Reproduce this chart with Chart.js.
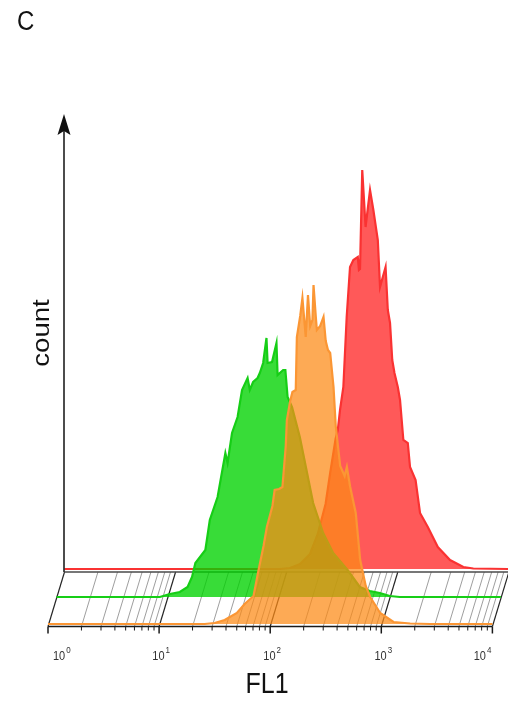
<!DOCTYPE html>
<html>
<head>
<meta charset="utf-8">
<script src="https://cdn.jsdelivr.net/npm/chart.js@4/dist/chart.umd.min.js"></script>
<style>
html,body{margin:0;padding:0;background:#fff;}
#wrap{width:508px;height:704px;position:relative;}
canvas{display:block;}
</style>
</head>
<body>
<div id="wrap"><canvas id="c" width="508" height="704"></canvas></div>
<script>
// ---------- text ----------
const panelLabel = 'C';
const xTitle = 'FL1';
const yTitle = 'count';
const decadeExponents = [0, 1, 2, 3, 4];      // tick labels 10^0 ... 10^4
const minorMultipliers = [2, 3, 4, 5, 6, 7, 8, 9];

// ---------- data (x = log10 FL1, y = count) ----------
const redLogFL1 = [0, 1.94, 2.03, 2.12, 2.21, 2.28, 2.35, 2.39, 2.44, 2.46, 2.48, 2.51, 2.54, 2.57, 2.60, 2.64, 2.65, 2.66, 2.68, 2.71, 2.75, 2.78, 2.82, 2.84, 2.89, 2.91, 2.93, 2.95, 2.97, 3.00, 3.02, 3.05, 3.09, 3.11, 3.16, 3.20, 3.27, 3.36, 3.47, 3.59, 3.68, 4];
const redCount  = [0, 0, 1, 5, 15, 35, 65, 95, 130, 139, 159, 182, 252, 302, 309, 312, 299, 300, 399, 342, 379, 359, 329, 282, 302, 259, 246, 209, 196, 182, 169, 129, 126, 102, 89, 56, 42, 22, 9, 2, 0.5, 0];

const greenLogFL1 = [0, 0.93, 1.02, 1.11, 1.18, 1.22, 1.25, 1.34, 1.38, 1.45, 1.52, 1.54, 1.58, 1.63, 1.67, 1.72, 1.74, 1.77, 1.81, 1.83, 1.86, 1.89, 1.90, 1.94, 1.98, 1.99, 2.04, 2.06, 2.08, 2.12, 2.19, 2.31, 2.40, 2.49, 2.62, 2.73, 2.82, 2.91, 3.00, 3.09, 4];
const greenCount  = [0, 0, 3, 5, 10, 20, 34, 47, 77, 100, 144, 134, 164, 180, 207, 219, 207, 215, 219, 224, 234, 259, 234, 235, 254, 222, 227, 227, 200, 190, 160, 94, 64, 44, 27, 10, 6, 4, 1, 0, 0];

const orangeLogFL1 = [0, 1.41, 1.50, 1.59, 1.70, 1.77, 1.85, 1.89, 1.94, 1.97, 2.02, 2.04, 2.08, 2.11, 2.14, 2.15, 2.18, 2.20, 2.23, 2.24, 2.27, 2.29, 2.32, 2.34, 2.36, 2.38, 2.39, 2.41, 2.42, 2.45, 2.48, 2.50, 2.52, 2.54, 2.57, 2.59, 2.63, 2.67, 2.69, 2.72, 2.77, 2.81, 2.86, 2.90, 2.99, 3.11, 3.26, 3.44, 4];
const orangeCount  = [0, 0, 1, 4, 11, 20, 28, 51, 78, 97, 118, 134, 135, 137, 178, 204, 223, 232, 234, 287, 308, 326, 287, 329, 298, 304, 339, 308, 294, 298, 307, 283, 274, 271, 237, 198, 158, 148, 157, 137, 111, 64, 38, 27, 11, 2, 0.5, 0, 0];

// ---------- geometry / style ----------
const FONT = "'Liberation Sans', Arial, Helvetica, sans-serif";
const TEXT_STRETCH = 1.15;
const decadePx = 111.1;
const plotWidthPx = 460;
const plotHeightPx = 524;
const layerShiftPx = { orange: 0, green: 8.5, red: 16.5 };
const layerRisePx  = { orange: 0, green: 27,  red: 55 };

function pairs(xs, ys) { return xs.map((x, i) => ({ x: x, y: ys[i] })); }
function xRange(shift) { const m = -shift / decadePx; return { min: m, max: m + plotWidthPx / decadePx }; }
function yRange(rise) { return { min: -rise, max: plotHeightPx - rise }; }

function line(ctx, x1, y1, x2, y2, color, w) {
  ctx.beginPath(); ctx.moveTo(x1, y1); ctx.lineTo(x2, y2);
  ctx.strokeStyle = color; ctx.lineWidth = w; ctx.stroke();
}

const floorPlugin = {
  id: 'floor',
  beforeDatasetsDraw(chart) {
    const ctx = chart.ctx;
    const s = chart.scales;
    const yF = s.yO.getPixelForValue(0) + 2.5;
    const yB = s.yR.getPixelForValue(0) + 3;
    ctx.save();
    for (let e = 0; e < 4; e++) {
      for (const m of minorMultipliers) {
        const v = e + Math.log10(m);
        line(ctx, s.xO.getPixelForValue(v), yF, s.xR.getPixelForValue(v), yB, '#858585', 0.8);
      }
    }
    for (const e of decadeExponents) {
      line(ctx, s.xO.getPixelForValue(e), yF, s.xR.getPixelForValue(e), yB, '#262626', 1.2);
    }
    line(ctx, s.xR.getPixelForValue(0), yB, s.xR.getPixelForValue(4) + 1, yB, '#4a4a4a', 1.4);
    ctx.restore();
  },
  afterDatasetsDraw(chart) {
    const ctx = chart.ctx;
    const s = chart.scales;
    const yF = s.yO.getPixelForValue(0) + 2.5;
    const yB = s.yR.getPixelForValue(0) + 3;
    ctx.save();
    // front axis
    const x0 = s.xO.getPixelForValue(0), x4 = s.xO.getPixelForValue(4);
    line(ctx, x0, yF, x4, yF, '#1a1a1a', 1.5);
    for (let e = 0; e < 4; e++) {
      for (const m of minorMultipliers) {
        const px = s.xO.getPixelForValue(e + Math.log10(m));
        line(ctx, px, yF, px, yF + 4, '#1a1a1a', 1);
      }
    }
    for (const e of decadeExponents) {
      const px = s.xO.getPixelForValue(e);
      line(ctx, px, yF, px, yF + 7, '#1a1a1a', 1.5);
    }
    // tick labels 10^n
    ctx.fillStyle = '#333';
    for (const e of decadeExponents) {
      const px = s.xO.getPixelForValue(e);
      ctx.font = '11px ' + FONT;
      const wb = ctx.measureText('10').width;
      ctx.font = '8px ' + FONT;
      const we = ctx.measureText(String(e)).width;
      const w = wb + 1 + we;
      let left = px - w / 2 + 2;
      left = Math.max(left, x0 + 5);
      left = Math.min(left, x4 - 1 - w);
      ctx.save();
      ctx.translate(left, 660); ctx.scale(1, TEXT_STRETCH);
      ctx.textAlign = 'left'; ctx.textBaseline = 'alphabetic';
      ctx.font = '11px ' + FONT;
      ctx.fillText('10', 0, 0);
      ctx.font = '8px ' + FONT;
      ctx.fillText(String(e), wb + 1, -6.5);
      ctx.restore();
    }
    // vertical count axis with arrow
    const ax = s.xR.getPixelForValue(0) - 0.5;
    const top = chart.chartArea.top + 14;
    line(ctx, ax, yB, ax, top + 16, '#111', 1.5);
    ctx.beginPath();
    ctx.moveTo(ax, top);
    ctx.lineTo(ax - 6.5, top + 21);
    ctx.lineTo(ax, top + 17);
    ctx.lineTo(ax + 6.5, top + 21);
    ctx.closePath();
    ctx.fillStyle = '#111';
    ctx.fill();
    // titles
    ctx.fillStyle = '#111';
    ctx.save();
    ctx.translate(267, 693); ctx.scale(1, TEXT_STRETCH);
    ctx.font = '25px ' + FONT;
    ctx.textAlign = 'center'; ctx.textBaseline = 'alphabetic';
    ctx.fillText(xTitle, 0, 0);
    ctx.restore();
    ctx.save();
    ctx.translate(42, 333); ctx.scale(1, TEXT_STRETCH); ctx.rotate(-Math.PI / 2);
    ctx.font = '24px ' + FONT;
    ctx.textAlign = 'center'; ctx.textBaseline = 'middle';
    ctx.fillText(yTitle, 0, 0);
    ctx.restore();
    ctx.save();
    ctx.translate(17, 30); ctx.scale(1, TEXT_STRETCH);
    ctx.font = '24px ' + FONT;
    ctx.textAlign = 'left'; ctx.textBaseline = 'alphabetic';
    ctx.fillText(panelLabel, 0, 0);
    ctx.restore();
    ctx.restore();
  }
};

const hidden = (r) => ({ type: 'linear', display: false, min: r.min, max: r.max });

new Chart(document.getElementById('c'), {
  type: 'line',
  data: {
    datasets: [
      { label: 'orange', data: pairs(orangeLogFL1, orangeCount), xAxisID: 'xO', yAxisID: 'yO', order: 1,
        borderColor: 'rgb(251,150,52)', backgroundColor: 'rgba(252,138,22,0.73)', fill: 'origin',
        borderWidth: 2.2, pointRadius: 0, tension: 0, clip: false },
      { label: 'green', data: pairs(greenLogFL1, greenCount), xAxisID: 'xG', yAxisID: 'yG', order: 2,
        borderColor: 'rgb(22,206,22)', backgroundColor: 'rgba(0,210,0,0.78)', fill: 'origin',
        borderWidth: 2.2, pointRadius: 0, tension: 0, clip: false },
      { label: 'red', data: pairs(redLogFL1, redCount), xAxisID: 'xR', yAxisID: 'yR', order: 3,
        borderColor: 'rgb(250,50,50)', backgroundColor: 'rgba(255,0,0,0.65)', fill: 'origin',
        borderWidth: 2.2, pointRadius: 0, tension: 0, clip: false }
    ]
  },
  options: {
    responsive: false,
    animation: false,
    devicePixelRatio: 1,
    events: [],
    layout: { padding: { left: 48, right: 0, top: 100, bottom: 80 } },
    plugins: { legend: { display: false }, tooltip: { enabled: false } },
    scales: {
      xO: hidden(xRange(layerShiftPx.orange)),
      xG: hidden(xRange(layerShiftPx.green)),
      xR: hidden(xRange(layerShiftPx.red)),
      yO: hidden(yRange(layerRisePx.orange)),
      yG: hidden(yRange(layerRisePx.green)),
      yR: hidden(yRange(layerRisePx.red))
    }
  },
  plugins: [floorPlugin]
});
</script>
</body>
</html>
